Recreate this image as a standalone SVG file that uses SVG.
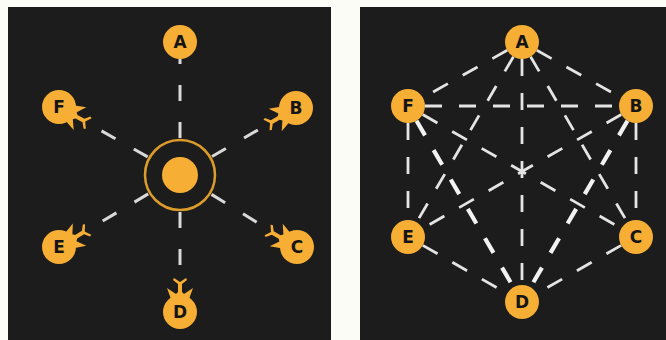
<svg xmlns="http://www.w3.org/2000/svg" width="666" height="340" viewBox="0 0 666 340">
  <style>
    .panel { fill: #1c1c1c; }
    .node { fill: #f6ae35; }
    .label { font-family: "DejaVu Sans", "Liberation Sans", sans-serif; font-weight: bold; font-size: 17px; fill: #151515; text-anchor: middle; dominant-baseline: central; }
    .spoke { stroke: #d9d9d9; stroke-width: 3; stroke-dasharray: 16 21; fill: none; }
    .edge { stroke: #e4e4e4; stroke-width: 2.8; stroke-dasharray: 17 17; fill: none; }
    .edge.bold { stroke: #f2f2f2; stroke-width: 4.2; }
  </style>
  <defs>
    <!-- forked barb attached to a node, pointing along -y -->
    <path id="barb" d="M -9,-13 L -13,-24 L -4,-18 L -2,-20 L -2,-28 L -7,-32 L -6,-34 L 0,-30 L 6,-34 L 7,-32 L 2,-28 L 2,-20 L 4,-18 L 13,-24 L 9,-13 Z"/>
  </defs>

  <rect width="666" height="340" fill="#fbfcf6"/>

  <!-- ===== Star topology ===== -->
  <rect class="panel" x="8" y="7" width="323" height="333"/>

  <g id="spokes">
    <line class="spoke" x1="180" y1="138" x2="180" y2="59"/>
    <line class="spoke" x1="180" y1="212" x2="180" y2="282"/>
    <line class="spoke" x1="212" y1="156.5" x2="270" y2="123"/>
    <line class="spoke" x1="211.5" y1="194.4" x2="271.5" y2="231.3"/>
    <line class="spoke" x1="148.2" y1="193.9" x2="84.8" y2="231.7"/>
    <line class="spoke" x1="147.7" y1="156.9" x2="85.2" y2="121.7"/>
  </g>

  <g id="hub">
    <circle cx="180" cy="175" r="35" fill="#1c1c1c" stroke="#dc9c2c" stroke-width="2.5"/>
    <circle class="node" cx="180" cy="175" r="18"/>
  </g>

  <g id="star-A">
    <circle class="node" cx="180" cy="42" r="17"/>
    <text class="label" x="180" y="42">A</text>
  </g>
  <g id="star-B">
    <use href="#barb" class="node" transform="translate(296 108) rotate(240)"/>
    <circle class="node" cx="296" cy="108" r="17"/>
    <text class="label" x="296" y="108">B</text>
  </g>
  <g id="star-C">
    <use href="#barb" class="node" transform="translate(297 247) rotate(300)"/>
    <circle class="node" cx="297" cy="247" r="17"/>
    <text class="label" x="297" y="247">C</text>
  </g>
  <g id="star-D">
    <use href="#barb" class="node" transform="translate(180 312)"/>
    <circle class="node" cx="180" cy="312" r="17"/>
    <text class="label" x="180" y="312">D</text>
  </g>
  <g id="star-E">
    <use href="#barb" class="node" transform="translate(59 247) rotate(59)"/>
    <circle class="node" cx="59" cy="247" r="17"/>
    <text class="label" x="59" y="247">E</text>
  </g>
  <g id="star-F">
    <use href="#barb" class="node" transform="translate(59 107) rotate(119)"/>
    <circle class="node" cx="59" cy="107" r="17"/>
    <text class="label" x="59" y="107">F</text>
  </g>

  <!-- ===== Mesh topology ===== -->
  <rect class="panel" x="360" y="7" width="306" height="333"/>

  <g id="mesh-edges">
    <line class="edge" x1="507.2" y1="50.3" x2="422.8" y2="97.7"/>
    <line class="edge" x1="536.8" y1="50.3" x2="621.2" y2="97.7"/>
    <line class="edge" x1="513.4" y1="56.7" x2="416.6" y2="222.3"/>
    <line class="edge" x1="530.6" y1="56.7" x2="627.4" y2="222.3"/>
    <line class="edge" x1="522" y1="59" x2="522" y2="285"/>
    <line class="edge" x1="425" y1="106" x2="619" y2="106"/>
    <line class="edge" x1="408" y1="123" x2="408" y2="220"/>
    <line class="edge" x1="636" y1="123" x2="636" y2="220"/>
    <line class="edge bold" x1="416.5" y1="120.7" x2="513.5" y2="287.3"/>
    <line class="edge bold" x1="627.5" y1="120.7" x2="530.5" y2="287.3"/>
    <line class="edge" x1="422.7" y1="114.5" x2="621.3" y2="228.5"/>
    <line class="edge" x1="621.3" y1="114.5" x2="422.7" y2="228.5"/>
    <line class="edge" x1="422.8" y1="245.4" x2="507.2" y2="293.6"/>
    <line class="edge" x1="621.2" y1="245.4" x2="536.8" y2="293.6"/>
  </g>

  <g id="mesh-A">
    <circle class="node" cx="522" cy="42" r="17"/>
    <text class="label" x="522" y="42">A</text>
  </g>
  <g id="mesh-B">
    <circle class="node" cx="636" cy="106" r="17"/>
    <text class="label" x="636" y="106">B</text>
  </g>
  <g id="mesh-C">
    <circle class="node" cx="636" cy="237" r="17"/>
    <text class="label" x="636" y="237">C</text>
  </g>
  <g id="mesh-D">
    <circle class="node" cx="522" cy="302" r="17"/>
    <text class="label" x="522" y="302">D</text>
  </g>
  <g id="mesh-E">
    <circle class="node" cx="408" cy="237" r="17"/>
    <text class="label" x="408" y="237">E</text>
  </g>
  <g id="mesh-F">
    <circle class="node" cx="408" cy="106" r="17"/>
    <text class="label" x="408" y="106">F</text>
  </g>
</svg>
